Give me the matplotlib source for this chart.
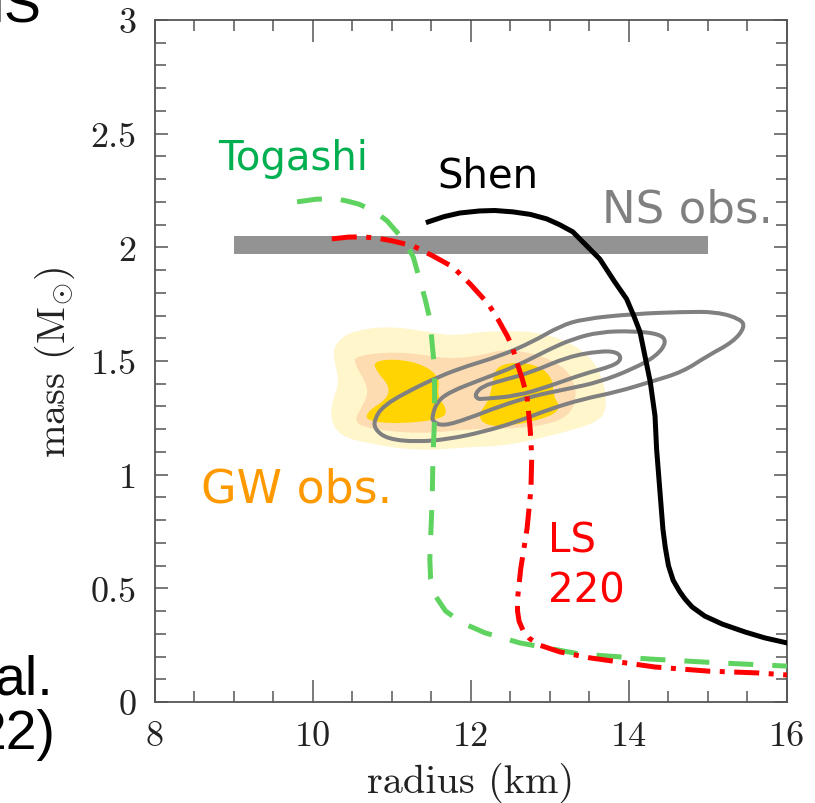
import numpy as np
import matplotlib
matplotlib.use("Agg")
import matplotlib.pyplot as plt
from matplotlib.path import Path
from matplotlib.patches import PathPatch

plt.rcParams['mathtext.fontset'] = 'cm'

# --- mass-radius curves (radius km, mass Msun) ---
shen_r = [11.46, 11.66, 11.86, 12.11, 12.30, 12.53, 12.75, 12.96, 13.12, 13.29, 13.63, 13.82,
          13.97, 14.06, 14.14, 14.27, 14.33, 14.35, 14.39, 14.43, 14.46, 14.50, 14.56, 14.64,
          14.71, 14.80, 14.96, 15.18, 15.47, 15.72, 16.0]
shen_m = [2.112, 2.135, 2.151, 2.160, 2.162, 2.156, 2.145, 2.125, 2.100, 2.068, 1.949, 1.848,
          1.773, 1.700, 1.628, 1.408, 1.258, 1.113, 0.937, 0.761, 0.680, 0.600, 0.535, 0.487,
          0.453, 0.418, 0.378, 0.343, 0.308, 0.282, 0.260]

togashi_r = [9.80, 10.05, 10.30, 10.43, 10.58, 10.72, 10.85, 10.94, 11.03, 11.14, 11.27, 11.42,
             11.48, 11.54, 11.54, 11.52, 11.51, 11.48, 11.49, 11.56, 11.68, 11.89, 12.18, 12.62,
             13.38, 14.27, 15.15, 16.0]
togashi_m = [2.200, 2.212, 2.213, 2.204, 2.190, 2.169, 2.140, 2.116, 2.080, 2.037, 1.958, 1.773,
             1.685, 1.465, 1.245, 1.082, 0.893, 0.629, 0.541, 0.462, 0.400, 0.348, 0.304, 0.260,
             0.211, 0.189, 0.172, 0.158]

ls220_r = [10.24, 10.45, 10.63, 10.82, 11.01, 11.27, 11.52, 11.77, 11.99, 12.22, 12.34, 12.46,
           12.52, 12.58, 12.65, 12.71, 12.75, 12.77, 12.76, 12.71, 12.63, 12.59, 12.59, 12.61,
           12.66, 12.74, 12.87, 13.13, 13.51, 14.33, 15.00, 15.63, 16.0]
ls220_m = [2.037, 2.045, 2.046, 2.040, 2.028, 2.006, 1.962, 1.914, 1.839, 1.751, 1.685, 1.610,
           1.566, 1.496, 1.421, 1.346, 1.201, 1.082, 0.937, 0.761, 0.585, 0.453, 0.400, 0.355,
           0.315, 0.280, 0.250, 0.220, 0.194, 0.154, 0.136, 0.128, 0.119]

# NS observation band (2.01 +- 0.04)
ns_r = [9.0, 15.0]
ns_m_lo = 1.97
ns_m_hi = 2.05

# GW obs. filled regions
gw_outer_r = [10.24, 10.34, 10.51, 10.94, 11.48, 11.77, 12.11, 12.41, 12.84, 13.25, 13.54, 13.67,
              13.72, 13.67, 13.34, 12.84, 12.41, 11.99, 11.35, 10.72, 10.34, 10.22, 10.25, 10.34]
gw_outer_m = [1.540, 1.597, 1.632, 1.654, 1.628, 1.610, 1.628, 1.632, 1.628, 1.584, 1.509, 1.421,
              1.320, 1.245, 1.201, 1.157, 1.126, 1.122, 1.104, 1.135, 1.170, 1.245, 1.333, 1.408]

gw_mid_r = [10.51, 10.56, 10.94, 11.35, 11.70, 12.11, 12.41, 12.84, 13.16, 13.29, 13.34, 13.25,
            12.91, 12.41, 11.99, 11.35, 10.72, 10.51, 10.63, 10.72]
gw_mid_m = [1.496, 1.522, 1.540, 1.531, 1.509, 1.522, 1.553, 1.531, 1.478, 1.421, 1.346, 1.258,
            1.214, 1.201, 1.201, 1.179, 1.201, 1.232, 1.302, 1.377]

gw_core1_r = [10.76, 11.10, 11.44, 11.61, 11.57, 11.70, 11.65, 11.10, 10.68, 10.68, 10.94, 10.97, 10.81]
gw_core1_m = [1.500, 1.509, 1.478, 1.421, 1.346, 1.289, 1.245, 1.223, 1.236, 1.276, 1.333, 1.390, 1.452]

gw_core2_r = [12.33, 12.58, 12.87, 13.04, 13.04, 13.13, 13.04, 12.53, 12.20, 12.08, 12.24, 12.28]
gw_core2_m = [1.478, 1.496, 1.478, 1.421, 1.346, 1.302, 1.258, 1.214, 1.214, 1.258, 1.333, 1.421]

# grey contours
c_outer_r = [10.78, 10.89, 11.19, 11.61, 11.95, 12.37, 12.78, 13.13, 13.42, 14.05, 14.68, 15.11,
             15.41, 15.47, 15.32, 14.99, 14.68, 14.27, 13.85, 13.42, 13.00, 12.58, 12.15, 11.73,
             11.32, 10.94, 10.78]
c_outer_m = [1.245, 1.302, 1.364, 1.434, 1.478, 1.522, 1.584, 1.654, 1.685, 1.707, 1.716, 1.716,
             1.685, 1.650, 1.584, 1.522, 1.452, 1.408, 1.364, 1.333, 1.289, 1.232, 1.188, 1.157,
             1.144, 1.157, 1.201]

c_mid_r = [11.51, 11.57, 11.73, 12.15, 12.58, 13.00, 13.29, 13.63, 14.05, 14.39, 14.48, 14.35,
           14.05, 13.63, 13.22, 12.78, 12.37, 11.95, 11.65, 11.52]
c_mid_m = [1.258, 1.320, 1.364, 1.421, 1.478, 1.553, 1.597, 1.628, 1.632, 1.619, 1.584, 1.522,
           1.465, 1.408, 1.377, 1.346, 1.302, 1.245, 1.214, 1.232]

c_in_r = [12.05, 12.15, 12.37, 12.78, 13.22, 13.63, 13.85, 13.91, 13.80, 13.42, 13.00, 12.58, 12.15, 12.08]
c_in_m = [1.355, 1.390, 1.412, 1.452, 1.518, 1.544, 1.540, 1.509, 1.478, 1.443, 1.390, 1.346, 1.333, 1.333]

xticks = [8, 10, 12, 14, 16]
xtick_labels = ['8', '10', '12', '14', '16']
yticks = [0, 0.5, 1, 1.5, 2, 2.5, 3]
ytick_labels = ['0', '0.5', '1', '1.5', '2', '2.5', '3']


def smooth_loop(xs, ys):
    # closed quadratic bezier path using the read points as control polygon
    pts = np.column_stack([xs, ys])
    n = len(pts)
    mids = (pts + np.roll(pts, -1, axis=0)) / 2
    verts = [mids[-1]]
    codes = [Path.MOVETO]
    for i in range(n):
        verts += [pts[i], mids[i]]
        codes += [Path.CURVE3, Path.CURVE3]
    verts.append(mids[-1])
    codes.append(Path.CLOSEPOLY)
    return Path(verts, codes)


fig = plt.figure(figsize=(8.15, 8.04), dpi=100)
ax = fig.add_axes([0.190, 0.1256, 0.7756, 0.8483])

# GW filled regions
for gr, gm, col, z in [(gw_outer_r, gw_outer_m, '#fff6cc', 1),
                       (gw_mid_r, gw_mid_m, '#fedcb2', 2),
                       (gw_core1_r, gw_core1_m, '#ffd400', 3),
                       (gw_core2_r, gw_core2_m, '#ffd400', 3)]:
    ax.add_patch(PathPatch(smooth_loop(gr, gm), facecolor=col, edgecolor='none', zorder=z))

# grey contours
for cr, cm in [(c_outer_r, c_outer_m), (c_mid_r, c_mid_m), (c_in_r, c_in_m)]:
    ax.add_patch(PathPatch(smooth_loop(cr, cm), facecolor='none', edgecolor='#808080',
                           lw=2.9, joinstyle='round', zorder=4))

# NS obs band
ax.fill_between(ns_r, ns_m_lo, ns_m_hi, color='#939393', lw=0, zorder=4)

# EOS curves
ax.plot(togashi_r, togashi_m, color='#5fd35f', lw=3.6, ls=(0, (5, 3.8)),
        dash_capstyle='butt', zorder=5)
ax.plot(ls220_r, ls220_m, color='#ff0000', lw=3.6, ls=(0, (5, 1.9, 1, 1.9)),
        dash_capstyle='butt', zorder=6)
ax.plot(shen_r, shen_m, color='black', lw=3.6, solid_joinstyle='round', zorder=7)

# annotations
ax.text(8.80, 2.345, 'Togashi', color='#00b050', fontsize=29, va='baseline', ha='left')
ax.text(11.58, 2.266, 'Shen', color='black', fontsize=29, va='baseline', ha='left')
ax.text(13.66, 2.112, 'NS obs.', color='#808080', fontsize=32.5, va='baseline', ha='left')
ax.text(8.59, 0.884, 'GW obs.', color='#ff9900', fontsize=33, va='baseline', ha='left')
ax.text(12.97, 0.660, 'LS', color='#ff0000', fontsize=29, va='baseline', ha='left')
ax.text(12.97, 0.440, '220', color='#ff0000', fontsize=29, va='baseline', ha='left')

ax.set_xlim(8, 16)
ax.set_ylim(0, 3)
ax.set_xticks(xticks)
ax.set_xticklabels(xtick_labels)
ax.set_yticks(yticks)
ax.set_yticklabels(ytick_labels)
ax.set_xticks(np.arange(8, 16.01, 0.5), minor=True)
ax.set_yticks(np.arange(0, 3.001, 0.1), minor=True)

axis_col = '#555555'
for s in ax.spines.values():
    s.set_color(axis_col)
    s.set_linewidth(1.3)
ax.tick_params(which='both', direction='in', top=True, right=True, color=axis_col, width=1.1,
               labelsize=26, labelfontfamily='cmr10', labelcolor='#222222')
ax.tick_params(axis='x', which='major', length=16, pad=13)
ax.tick_params(axis='x', which='minor', length=8)
ax.tick_params(axis='y', which='major', length=9.5, pad=13)
ax.tick_params(axis='y', which='minor', length=8)

ax.set_xlabel('radius (km)', fontfamily='cmr10', fontsize=29, color='#222222', labelpad=7)
ax.set_ylabel(r'mass $(\mathrm{M}_{\odot})$', fontfamily='cmr10', fontsize=29, color='#222222',
              labelpad=10)

# partial slide text cut at the left edge
fig.text(0.0503, 0.9714, 'NS', fontfamily='Liberation Sans', fontsize=40, ha='right', va='baseline')
fig.text(0.065, 0.1356, 'al.', fontfamily='Liberation Sans', fontsize=40, ha='right', va='baseline')
fig.text(0.0675, 0.068, '22)', fontfamily='Liberation Sans', fontsize=40, ha='right', va='baseline')

fig.savefig('out.png', dpi=100)
